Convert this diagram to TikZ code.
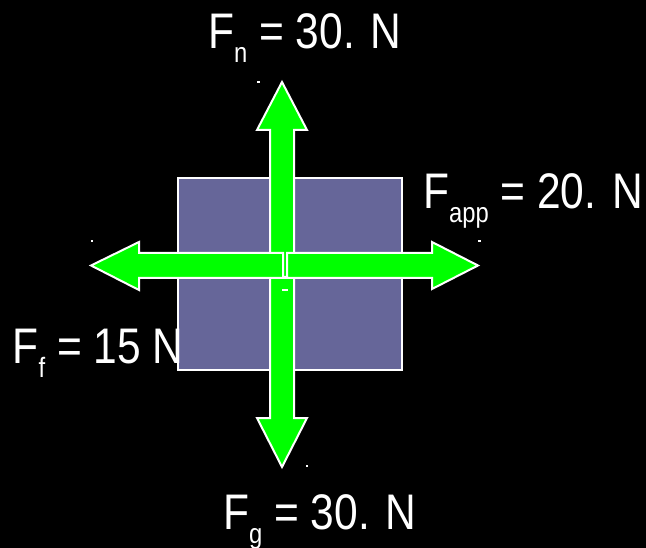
\documentclass[tikz,border=0pt]{standalone}
\usepackage{fontspec}
\setmainfont[FakeStretch=0.85]{Liberation Sans}
\usetikzlibrary{positioning}

\definecolor{boxpurple}{RGB}{102,102,153}
\definecolor{forcegreen}{RGB}{0,255,0}

\newcommand{\lowsub}[1]{\raisebox{-14pt}{\fontsize{28}{28}\selectfont #1}}

\tikzset{
  force/.style={fill=forcegreen, draw=white, line width=2pt, line join=miter},
  label/.style={text=white, font=\fontsize{50}{50}\selectfont, inner sep=0pt},
  speck/.style={fill=white, draw=none},
}

\begin{document}
\begin{tikzpicture}[x=1pt, y=-1pt]

  \def\cx{282}
  \def\cy{265.5}

  % background
  \fill[black] (0,0) rectangle (646,548);
  \useasboundingbox (0,0) rectangle (646,548);

  % block
  \draw[fill=boxpurple, draw=white, line width=2pt] (178,178) rectangle (402,370);

  % vertical forces
  \draw[force] (\cx-12,277) -- (\cx-12,130) -- (\cx-25,130) -- (\cx,82)
    -- (\cx+25,130) -- (\cx+12,130) -- (\cx+12,277) -- cycle;
  \draw[force] (\cx-12,278) -- (\cx-12,418) -- (\cx-25,418) -- (\cx,467)
    -- (\cx+25,418) -- (\cx+12,418) -- (\cx+12,278) -- cycle;

  % horizontal forces
  \draw[force] (283,\cy-12.5) -- (139,\cy-12.5) -- (139,242) -- (91,\cy)
    -- (139,290) -- (139,\cy+12.5) -- (283,\cy+12.5) -- cycle;
  \draw[force] (287,\cy-12.5) -- (432,\cy-12.5) -- (432,242) -- (478,\cy)
    -- (432,289) -- (432,\cy+12.5) -- (287,\cy+12.5) -- cycle;

  % specks
  \fill[speck] (257,81) rectangle (259.5,83);
  \fill[speck] (90.5,240.5) rectangle (93,242.5);
  \fill[speck] (478,240.5) rectangle (480.5,242.5);
  \fill[speck] (305.5,465) rectangle (308,467);
  \fill[speck] (282,289) rectangle (288,291);

  % labels
  \node[label, anchor=base west] (normal) at (208,48.5) {F\lowsub{n} = 30. N};
  \node[label, anchor=base west] (applied) at (423,208.5) {F\lowsub{app} = 20. N};
  \node[label, anchor=base west] (friction) at (12.5,363) {F\lowsub{f} = 15 N};
  \node[label, anchor=base west] (gravity) at (223,529.5) {F\lowsub{g} = 30. N};

\end{tikzpicture}
\end{document}
